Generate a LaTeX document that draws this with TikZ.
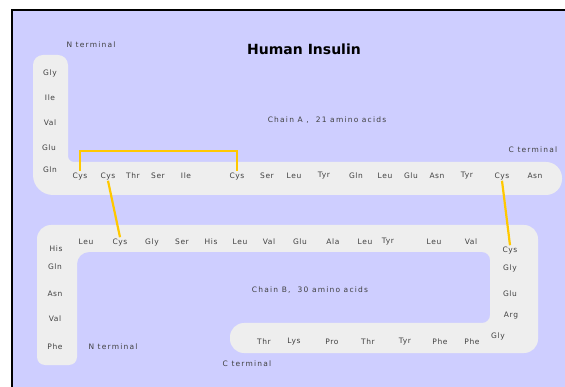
\documentclass[tikz,border=0pt]{standalone}
\usepackage{fontspec}
\setmainfont{DejaVu Sans}
\usepackage{tikz}
\usetikzlibrary{calc}
\definecolor{lav}{RGB}{206,206,255}
\definecolor{band}{RGB}{238,238,238}
\definecolor{ink}{RGB}{64,64,64}
\definecolor{bond}{RGB}{255,200,0}
\tikzset{
  res/.style={inner sep=1pt,text=ink,
    font=\fontsize{7.5}{8}\selectfont\addfontfeature{LetterSpace=8}},
  lbl/.style={inner sep=1pt,text=ink,
    font=\fontsize{7.5}{8}\selectfont\addfontfeature{LetterSpace=16}},
  ttl/.style={inner sep=1pt,font=\fontsize{14}{16}\bfseries\selectfont},
  ss/.style={draw=bond,line width=2.2pt},
}

\begin{document}
\begin{tikzpicture}[x=1pt,y=-1pt]
  % page and frame
  \useasboundingbox (0,0) rectangle (565,387);
  \fill[white] (0,0) rectangle (565,387);
  \fill[lav] (12,10) rectangle (565,387);
  \draw[line width=2.5pt] (12,387) -- (12,10) -- (565,10);
  % chain A backbone
  \fill[band] (33,65) [rounded corners=10pt] -- (33,55) -- (68,55)
    [rounded corners=6pt] -- (68,162) [rounded corners=16pt] -- (562,162)
    -- (562,195) [rounded corners=20pt] -- (33,195) [sharp corners] -- cycle;
  % chain B backbone
  \fill[band] (37,240) [rounded corners=14pt] -- (37,225) -- (538,225)
    -- (538,353) -- (230,353) -- (230,323) [rounded corners=8pt] -- (490,323)
    -- (490,252) [rounded corners=12pt] -- (77,252) [rounded corners=8pt]
    -- (77,365) -- (37,365) [sharp corners] -- cycle;

  \node[ttl] (title) at (304,49) {Human Insulin};
  \node[lbl] (ntA) at (91,45) {N terminal};
  \node[lbl] (ctA) at (533,150) {C terminal};
  \node[lbl] (chA) at (327,120) {Chain A ,\ \ 21 amino acids};
  \node[lbl] (chB) at (310,290) {Chain B,\ \ 30 amino acids};
  \node[lbl] (ntB) at (113,347) {N terminal};
  \node[lbl] (ctB) at (247,364) {C terminal};

  % chain A residues
  \foreach \i/\x/\y/\r in {1/50/73/Gly,2/50/98/Ile,3/50/123/Val,4/49/148/Glu,
      5/50/170/Gln,6/80/176/Cys,7/108/176/Cys,8/133/176/Thr,9/158/176/Ser,
      10/186/176/Ile,11/237/176/Cys,12/267/176/Ser,13/294/176/Leu,
      14/324/176/Tyr,15/356/176/Gln,16/385/176/Leu,17/411/176/Glu,
      18/437/176/Asn,19/467/176/Tyr,20/502/176/Cys,21/535/176/Asn}
    \node[res] (a\i) at (\x,\y) {\r};
  % chain B residues
  \foreach \i/\x/\y/\r in {1/55/347/Phe,2/55/319/Val,3/55/294/Asn,
      4/55/267/Gln,5/56/249/His,6/86/242/Leu,7/120/242/Cys,8/152/242/Gly,
      9/182/242/Ser,10/211/242/His,11/240/242/Leu,12/269/242/Val,
      13/300/242/Glu,14/333/242/Ala,15/365/242/Leu,16/388/242/Tyr,
      17/434/242/Leu,18/471/242/Val,19/510/250/Cys,20/510/268/Gly,
      21/510/294/Glu,22/511/316/Arg,23/498/336/Gly,24/472/342/Phe,
      25/440/342/Phe,26/405/342/Tyr,27/368/342/Thr,28/332/342/Pro,
      29/294/342/Lys,30/264/342/Thr}
    \node[res] (b\i) at (\x,\y) {\r};

  % disulfide bridges
  \draw[ss] (a6.north) -- ++(0,-20) -| (a11.north);
  \draw[ss] (a7.south) -- (b7.north);
  \draw[ss] (a20.south) -- (b19.north);
\end{tikzpicture}
\end{document}
